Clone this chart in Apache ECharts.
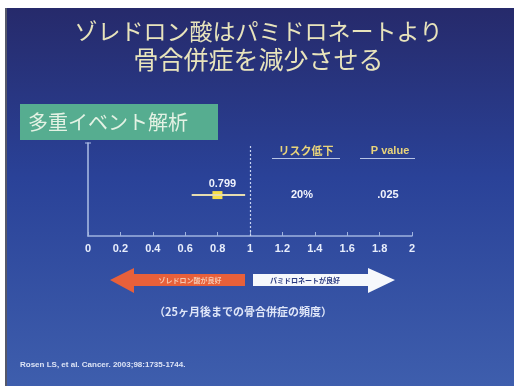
<!DOCTYPE html>
<html>
<head>
<meta charset="utf-8">
<script src="https://cdn.jsdelivr.net/npm/echarts@6/dist/echarts.min.js"></script>
<style>
  html, body { margin: 0; padding: 0; background: #ffffff; }
  #chart { width: 517px; height: 386px; }
</style>
</head>
<body>
<div id="chart"></div>
<script>
// Hazard ratio (multiple-event analysis) with its confidence interval
const hazardRatio = 0.799;
const ciLow = 0.64;
const ciHigh = 0.97;
const rowLevel = 0.44;           // vertical position of the single estimate row
const xTicks = [0, 0.2, 0.4, 0.6, 0.8, 1, 1.2, 1.4, 1.6, 1.8, 2];
const riskReduction = '20%';
const pValue = '.025';
const titleLines = ['ゾレドロン酸はパミドロネートより', '骨合併症を減少させる'];
const analysisLabel = '多重イベント解析';
const columnHeads = ['リスク低下', 'P value'];
const arrowLabels = ['ゾレドロン酸が良好', 'パミドロネートが良好'];
const caption = '（25ヶ月後までの骨合併症の頻度）';
const citation = 'Rosen LS, et al. Cancer. 2003;98:1735-1744.';

const chart = echarts.init(document.getElementById('chart'), null, { renderer: 'canvas' });
const jp = '"Noto Sans CJK JP", "Noto Sans", sans-serif';
const latin = 'Liberation Sans, Arial, sans-serif';

chart.setOption({
  animation: false,
  backgroundColor: '#ffffff',
  grid: { left: 88, right: 105, top: 143, bottom: 150 },
  xAxis: {
    type: 'value', min: 0, max: 2, interval: 0.2,
    axisLine: { show: true, lineStyle: { color: '#9fb3df', width: 1.5 } },
    axisTick: { show: true, inside: true, length: 4, lineStyle: { color: '#9fb3df' } },
    splitLine: { show: false },
    axisLabel: {
      color: '#e8eefc', fontWeight: 'bold', fontSize: 11, margin: 7,
      fontFamily: latin,
      formatter: v => xTicks.includes(+v.toFixed(1)) ? String(+v.toFixed(1)) : ''
    }
  },
  yAxis: {
    type: 'value', min: 0, max: 1, position: 'left',
    axisLine: { show: true, onZero: false, lineStyle: { color: '#aebfe6', width: 1.5 } },
    axisTick: { show: false }, axisLabel: { show: false }, splitLine: { show: false }
  },
  graphic: [
    // slide background
    { type: 'rect', z: -10, shape: { x: 6, y: 8, width: 508, height: 378 },
      style: { fill: new echarts.graphic.LinearGradient(0, 0, 0, 1, [
        { offset: 0, color: '#262a6b' },
        { offset: 0.45, color: '#2a4298' },
        { offset: 1, color: '#3e5ead' }
      ]) } },
    { type: 'rect', z: -9, shape: { x: 5, y: 8, width: 2, height: 378 }, style: { fill: '#55586a' } },
    // top cap of the left axis
    { type: 'line', shape: { x1: 85, y1: 143, x2: 91, y2: 143 }, style: { stroke: '#aebfe6', lineWidth: 1 } },
    // title
    { type: 'text', left: 'center', top: 20, style: { text: titleLines[0], fill: '#e8e4bc', font: '23px ' + jp } },
    { type: 'text', left: 'center', top: 47, style: { text: titleLines[1], fill: '#e8e4bc', font: '25px ' + jp } },
    // analysis label box
    { type: 'rect', shape: { x: 20, y: 104, width: 198, height: 36 }, style: { fill: '#56ad90' } },
    { type: 'text', x: 28, y: 122, style: { text: analysisLabel, fill: '#e4f2e4', font: '20px ' + jp, verticalAlign: 'middle' } },
    // column headers
    { type: 'text', x: 306, y: 151, style: { text: columnHeads[0], fill: '#e9d47a', font: 'bold 11px ' + jp, align: 'center', verticalAlign: 'middle' } },
    { type: 'line', shape: { x1: 272, y1: 158.5, x2: 340, y2: 158.5 }, style: { stroke: '#b8c4e4', lineWidth: 1.2 } },
    { type: 'text', x: 390, y: 151, style: { text: columnHeads[1], fill: '#e9d47a', font: 'bold 11px ' + latin, align: 'center', verticalAlign: 'middle' } },
    { type: 'line', shape: { x1: 360, y1: 158.5, x2: 415, y2: 158.5 }, style: { stroke: '#b8c4e4', lineWidth: 1.2 } },
    { type: 'text', x: 302, y: 195, style: { text: riskReduction, fill: '#f2f4fc', font: 'bold 11px ' + latin, align: 'center', verticalAlign: 'middle' } },
    { type: 'text', x: 388, y: 195, style: { text: pValue, fill: '#f2f4fc', font: 'bold 11px ' + latin, align: 'center', verticalAlign: 'middle' } },
    // direction arrows
    { type: 'polygon', shape: { points: [[110, 280], [134, 268], [134, 274], [245, 274], [245, 286], [134, 286], [134, 293]] },
      style: { fill: '#e8603a' } },
    { type: 'text', x: 190, y: 280, style: { text: arrowLabels[0], fill: '#f6c8b0', font: 'bold 7px ' + jp, align: 'center', verticalAlign: 'middle' } },
    { type: 'polygon', shape: { points: [[253, 274], [368, 274], [368, 268], [395, 280], [368, 293], [368, 286], [253, 286]] },
      style: { fill: '#f6f8fc' } },
    { type: 'text', x: 305, y: 280, style: { text: arrowLabels[1], fill: '#2a3a80', font: 'bold 7px ' + jp, align: 'center', verticalAlign: 'middle' } },
    // caption and citation
    { type: 'text', x: 243, y: 312, style: { text: caption, fill: '#dfe6f8', font: 'bold 11px ' + jp, align: 'center', verticalAlign: 'middle' } },
    { type: 'text', x: 20, y: 365, style: { text: citation, fill: '#dde4f6', font: 'bold 8px ' + latin, verticalAlign: 'middle' } }
  ],
  series: [
    {
      // confidence interval
      type: 'line', silent: true, symbol: 'none',
      data: [[ciLow, rowLevel], [ciHigh, rowLevel]],
      lineStyle: { color: '#e6dcb0', width: 2 },
      markLine: {
        silent: true, symbol: 'none', label: { show: false },
        lineStyle: { color: '#c8d4f0', type: [2, 2], width: 1.2 },
        data: [[{ coord: [1, 0] }, { coord: [1, 0.98] }]]
      }
    },
    {
      // point estimate
      type: 'scatter', symbol: 'rect', symbolSize: [10, 8],
      data: [[hazardRatio, rowLevel]],
      itemStyle: { color: '#f6de48', opacity: 1 },
      label: {
        show: true, position: 'top', distance: 2, offset: [5, 0],
        formatter: p => p.value[0].toFixed(3),
        color: '#eef2fc', fontWeight: 'bold', fontSize: 11,
        fontFamily: latin
      }
    }
  ]
});
</script>
</body>
</html>
